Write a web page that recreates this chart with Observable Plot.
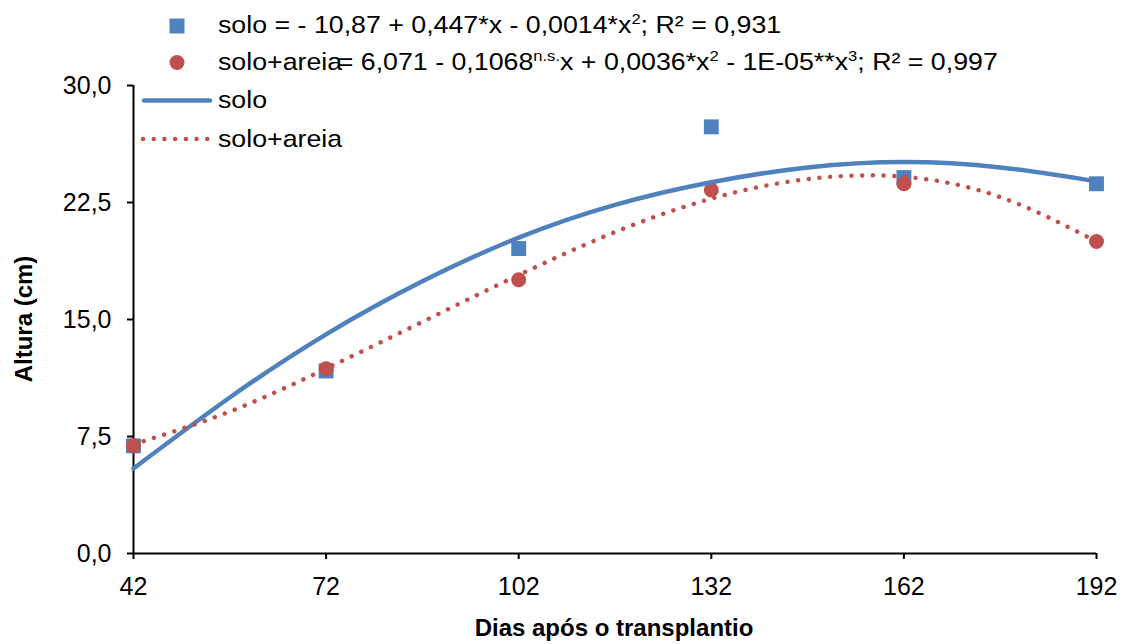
<!DOCTYPE html>
<html>
<head>
<meta charset="utf-8">
<script src="https://cdn.jsdelivr.net/npm/d3@7"></script>
<script src="https://cdn.jsdelivr.net/npm/@observablehq/plot@0.6"></script>
<style>
  html, body { margin: 0; padding: 0; background: #fff; }
  #chart svg { display: block; }
</style>
</head>
<body>
<div id="chart"></div>
<script>
// ---- data ----
const days = [42, 72, 102, 132, 162, 192];
const soloValues = [6.9, 11.7, 19.55, 27.35, 24.1, 23.7];
const soloAreiaValues = [6.9, 11.85, 17.55, 23.3, 23.7, 20.0];

// trendline curves
const trendDays = [42, 57, 72, 87, 102, 117, 132, 147, 162, 177, 192];
const soloTrend = [5.45, 10.0, 14.05, 17.45, 20.25, 22.35, 23.8, 24.75, 25.1, 24.75, 23.85];
const soloAreiaTrend = [7.0, 9.1, 11.85, 14.85, 17.85, 20.6, 22.75, 24.0, 24.15, 22.85, 20.0];

const xTicks = [42, 72, 102, 132, 162, 192];
const yTicks = [0, 7.5, 15, 22.5, 30];

const xTitle = "Dias após o transplantio";
const yTitle = "Altura (cm)";
const seriesNames = ["solo", "solo+areia"];

const BLUE = "#4F81BD";
const RED = "#C0504D";
const FONT = "'Liberation Sans', Arial, sans-serif";
const STRETCH = 1.115;

const soloPts = days.map((d, i) => ({x: d, y: soloValues[i]}));
const areiaPts = days.map((d, i) => ({x: d, y: soloAreiaValues[i]}));
const soloLine = trendDays.map((d, i) => ({x: d, y: soloTrend[i]}));
const areiaLine = trendDays.map((d, i) => ({x: d, y: soloAreiaTrend[i]}));

const fmt = d => d.toFixed(1).replace(".", ",");

const chart = Plot.plot({
  width: 1125,
  height: 644,
  marginLeft: 133,
  marginRight: 29,
  marginTop: 85,
  marginBottom: 91,
  style: {fontFamily: FONT, color: "#000", background: "#fff", overflow: "visible"},
  x: {domain: [42, 192]},
  y: {domain: [0, 30]},
  marks: [
    Plot.axisX({ticks: xTicks, tickSize: 6, tickPadding: 18, fontSize: 25, label: null, strokeWidth: 2, tickFormat: d => String(d)}),
    Plot.axisY({ticks: yTicks, tickSize: 6, tickPadding: 16, fontSize: 25, label: null, strokeWidth: 2, tickFormat: fmt}),
    Plot.ruleY([0], {stroke: "#000", strokeWidth: 2}),
    Plot.ruleX([42], {stroke: "#000", strokeWidth: 2}),
    Plot.dot(soloPts, {x: "x", y: "y", symbol: "square", r: 8.4, fill: BLUE, stroke: "none"}),
    Plot.dot(areiaPts, {x: "x", y: "y", symbol: "circle", r: 7.5, fill: RED, stroke: "none"}),
    Plot.line(soloLine, {x: "x", y: "y", stroke: BLUE, strokeWidth: 4.5, curve: "natural"}),
    Plot.line(areiaLine, {x: "x", y: "y", stroke: RED, strokeWidth: 4.5, curve: "natural", strokeDasharray: "0.01 10.7", strokeLinecap: "round"})
  ]
});

document.getElementById("chart").appendChild(chart);

// ---- overlay texts & legends ----
const svg = d3.select(chart);
const g = svg.append("g").attr("font-family", FONT).attr("fill", "#000").attr("text-anchor", "start");

function richText(x, y, parts, size) {
  const t = g.append("text")
    .attr("transform", `translate(${x},${y}) scale(${STRETCH},1)`)
    .attr("font-size", size).attr("text-anchor", "start");
  parts.forEach(p => {
    const s = t.append("tspan").text(p.t);
    if (p.sup) { s.attr("font-size", size * 0.62).attr("dy", -size * 0.36); }
    if (p.after) { s.attr("dy", size * 0.36); }
    if (p.dx) { s.attr("dx", p.dx); }
  });
  return t;
}

// Axis titles
g.append("text").attr("x", 614).attr("y", 636).attr("text-anchor", "middle")
  .attr("font-size", 24).attr("font-weight", "bold").text(xTitle);
g.append("text").attr("transform", "translate(32,319) rotate(-90)").attr("text-anchor", "middle")
  .attr("font-size", 24).attr("font-weight", "bold").text(yTitle);

// Top legend (markers + equations)
g.append("rect").attr("x", 169.5).attr("y", 18.5).attr("width", 15).attr("height", 15).attr("fill", BLUE);
richText(218, 33, [
  {t: "solo = - 10,87 + 0,447*x - 0,0014*x"},
  {t: "2", sup: true},
  {t: "; R² = 0,931", after: true}
], 24);

g.append("circle").attr("cx", 177).attr("cy", 62.5).attr("r", 7.5).attr("fill", RED);
richText(218, 70, [
  {t: "solo+areia"},
  {t: "= 6,071 - 0,1068", dx: -4},
  {t: "n.s.", sup: true},
  {t: "x + 0,0036*x", after: true},
  {t: "2", sup: true},
  {t: " - 1E-05**x", after: true},
  {t: "3", sup: true},
  {t: "; R² = 0,997", after: true}
], 24);

// Inner legend (trendlines)
g.append("line").attr("x1", 144).attr("x2", 210).attr("y1", 100.5).attr("y2", 100.5)
  .attr("stroke", BLUE).attr("stroke-width", 4.5).attr("stroke-linecap", "round");
richText(218, 108, [{t: seriesNames[0]}], 24);
g.append("line").attr("x1", 143).attr("x2", 210).attr("y1", 139).attr("y2", 139)
  .attr("stroke", RED).attr("stroke-width", 4.5).attr("stroke-linecap", "round")
  .attr("stroke-dasharray", "0.01 10.7");
richText(218, 147, [{t: seriesNames[1]}], 24);
</script>
</body>
</html>
